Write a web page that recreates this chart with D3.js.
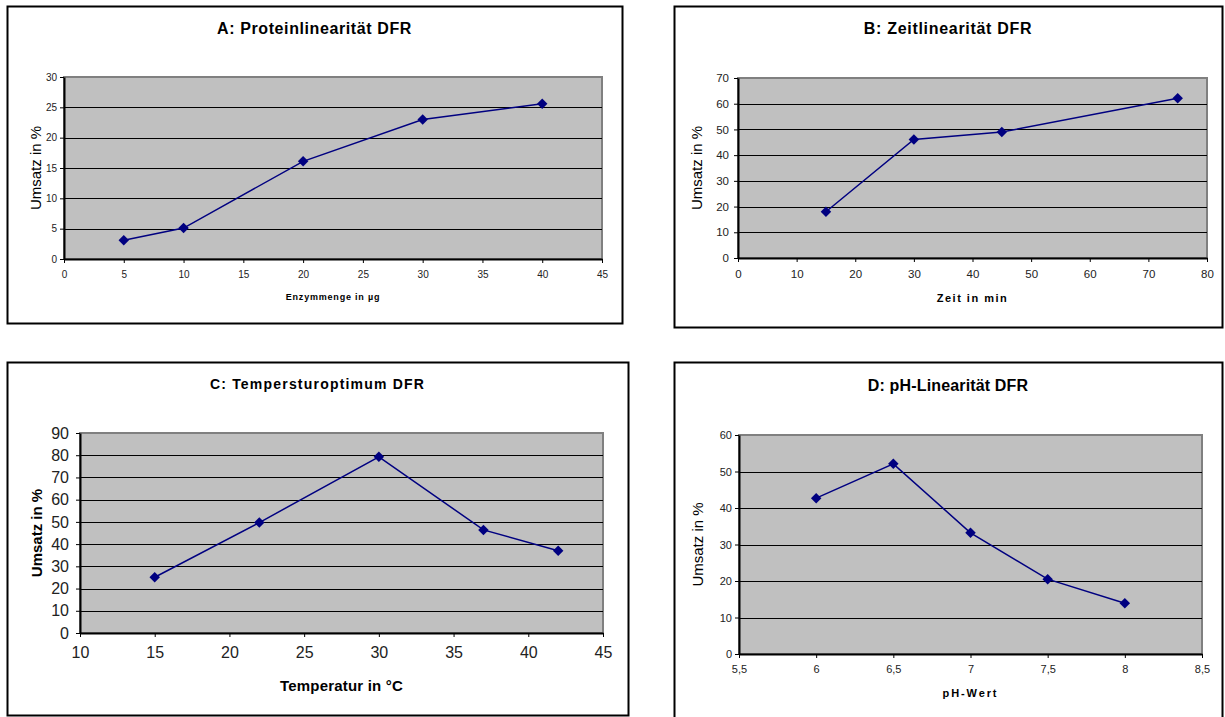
<!DOCTYPE html>
<html>
<head>
<meta charset="utf-8">
<script src="https://cdn.jsdelivr.net/npm/d3@7/dist/d3.min.js"></script>
<style>
  body { margin: 0; background: #fff; }
  svg { display: block; font-family: "Liberation Sans", Arial, sans-serif; }
</style>
</head>
<body>
<div id="chart"></div>
<script>
// --- data ---
const proteinX = [5, 10, 20, 30, 40];
const proteinY = [3.1, 5.1, 16.1, 23.0, 25.6];
const proteinXTicks = [0, 5, 10, 15, 20, 25, 30, 35, 40, 45];
const proteinYTicks = [0, 5, 10, 15, 20, 25, 30];

const timeX = [15, 30, 45, 75];
const timeY = [18.0, 46.1, 49.0, 62.1];
const timeXTicks = [0, 10, 20, 30, 40, 50, 60, 70, 80];
const timeYTicks = [0, 10, 20, 30, 40, 50, 60, 70];

const tempX = [15, 22, 30, 37, 42];
const tempY = [25.1, 49.7, 79.3, 46.4, 37.0];
const tempXTicks = [10, 15, 20, 25, 30, 35, 40, 45];
const tempYTicks = [0, 10, 20, 30, 40, 50, 60, 70, 80, 90];

const phX = [6, 6.5, 7, 7.5, 8];
const phY = [42.7, 52.1, 33.2, 20.5, 13.9];
const phXTicks = [5.5, 6, 6.5, 7, 7.5, 8, 8.5];
const phYTicks = [0, 10, 20, 30, 40, 50, 60];

const titles = ['A: Proteinlinearität DFR', 'B: Zeitlinearität DFR', 'C: Tempersturoptimum DFR', 'D: pH-Linearität DFR'];
const xTitles = ['Enzymmenge in µg', 'Zeit in min', 'Temperatur in °C', 'pH-Wert'];
const yTitle = 'Umsatz in %';

const W = 1225, H = 717;
const svg = d3.select('#chart').append('svg').attr('width', W).attr('height', H);

// comma decimal like the original (german excel)
const deFmt = d => String(d).replace('.', ',');

const panels = [
  { xs: proteinX, ys: proteinY, xt: proteinXTicks, yt: proteinYTicks, title: titles[0], xTitle: xTitles[0],
    box: [7, 6, 622, 323], plot: [64, 77, 602, 259], titleY: 28, titleSize: 16, titleLs: 0.6,
    tickSize: 10, xPad: 8, yPad: 3, xTitleY: 297, xTitleSize: 9, xTitleLs: 0.8,
    yTitleX: 35, yTitleSize: 15, yTitleBold: false },
  { xs: timeX, ys: timeY, xt: timeXTicks, yt: timeYTicks, title: titles[1], xTitle: xTitles[1],
    box: [674, 6, 1222, 327], plot: [738, 78, 1207, 258], titleY: 28, titleSize: 16, titleLs: 0.7,
    tickSize: 11.5, xPad: 8, yPad: 5, xTitleY: 298, xTitleSize: 11, xTitleLs: 1.5,
    yTitleX: 696, yTitleSize: 15, yTitleBold: false },
  { xs: tempX, ys: tempY, xt: tempXTicks, yt: tempYTicks, title: titles[2], xTitle: xTitles[2],
    box: [7, 362, 628, 715], plot: [80, 433, 603, 633], titleY: 384, titleSize: 14, titleLs: 1.2,
    tickSize: 16, xPad: 10, yPad: 7, xTitleY: 685, xTitleSize: 15, xTitleLs: 0.2,
    yTitleX: 36, yTitleSize: 15, yTitleBold: true },
  { xs: phX, ys: phY, xt: phXTicks, yt: phYTicks, title: titles[3], xTitle: xTitles[3],
    box: [674, 362, 1222, 722], plot: [739, 435, 1202, 654], titleY: 385, titleSize: 16, titleLs: 0.15,
    tickSize: 11, xPad: 7, yPad: 3, xTitleY: 693, xTitleSize: 11, xTitleLs: 1.9,
    yTitleX: 697, yTitleSize: 15, yTitleBold: false, fmt: deFmt }
];

panels.forEach(drawPanel);

function drawPanel(p) {
  const [bx0, by0, bx1, by1] = p.box;
  const [px0, py0, px1, py1] = p.plot;
  const g = svg.append('g');

  // outer chart frame
  g.append('rect')
    .attr('x', bx0 + 0.5).attr('y', by0 + 0.5)
    .attr('width', bx1 - bx0).attr('height', by1 - by0)
    .attr('fill', '#fff').attr('stroke', '#000').attr('stroke-width', 2);

  const x = d3.scaleLinear().domain(d3.extent(p.xt)).range([px0, px1]);
  const y = d3.scaleLinear().domain(d3.extent(p.yt)).range([py1, py0]);

  // plot area
  g.append('rect')
    .attr('x', px0).attr('y', py0)
    .attr('width', px1 - px0).attr('height', py1 - py0)
    .attr('fill', '#c0c0c0').attr('stroke', '#808080').attr('stroke-width', 2);

  // horizontal gridlines
  g.append('g')
    .selectAll('line')
    .data(p.yt.slice(1, -1))
    .join('line')
    .attr('x1', px0).attr('x2', px1)
    .attr('y1', d => Math.round(y(d)) + 0.5).attr('y2', d => Math.round(y(d)) + 0.5)
    .attr('stroke', '#000').attr('stroke-width', 1);

  const fmt = p.fmt || (d => String(d));

  const xAxis = g.append('g')
    .attr('transform', `translate(0,${py1})`)
    .call(d3.axisBottom(x).tickValues(p.xt).tickFormat(fmt).tickSize(4).tickPadding(p.xPad).tickSizeOuter(0));
  const yAxis = g.append('g')
    .attr('transform', `translate(${px0},0)`)
    .call(d3.axisLeft(y).tickValues(p.yt).tickFormat(fmt).tickSize(4).tickPadding(p.yPad).tickSizeOuter(0));

  [xAxis, yAxis].forEach(ax => {
    ax.select('.domain').attr('stroke', '#000').attr('stroke-width', 2);
    ax.selectAll('.tick line').attr('stroke', '#000');
    ax.selectAll('.tick text')
      .attr('fill', '#222')
      .style('font-size', p.tickSize + 'px')
      .style('font-family', '"Liberation Sans", Arial, sans-serif');
  });

  // data line
  const pts = p.xs.map((v, i) => [v, p.ys[i]]);
  g.append('path')
    .datum(pts)
    .attr('fill', 'none')
    .attr('stroke', '#000080')
    .attr('stroke-width', 1.5)
    .attr('d', d3.line().x(d => x(d[0])).y(d => y(d[1])));

  // diamond markers (square turned 45deg, like excel)
  g.append('g')
    .selectAll('path')
    .data(pts)
    .join('path')
    .attr('transform', d => `translate(${x(d[0])},${y(d[1])}) rotate(45)`)
    .attr('d', d3.symbol(d3.symbolSquare, 55))
    .attr('fill', '#000080');

  // title
  g.append('text')
    .attr('x', (bx0 + bx1) / 2).attr('y', p.titleY)
    .attr('text-anchor', 'middle').attr('dominant-baseline', 'central')
    .style('font-size', p.titleSize + 'px').style('font-weight', 'bold')
    .style('letter-spacing', p.titleLs + 'px')
    .text(p.title);

  // x axis title
  g.append('text')
    .attr('x', (px0 + px1) / 2).attr('y', p.xTitleY)
    .attr('text-anchor', 'middle').attr('dominant-baseline', 'central')
    .style('font-size', p.xTitleSize + 'px').style('font-weight', 'bold')
    .style('letter-spacing', p.xTitleLs + 'px')
    .text(p.xTitle);

  // y axis title
  g.append('text')
    .attr('transform', `translate(${p.yTitleX},${(py0 + py1) / 2}) rotate(-90)`)
    .attr('text-anchor', 'middle').attr('dominant-baseline', 'central')
    .style('font-size', p.yTitleSize + 'px')
    .style('font-weight', p.yTitleBold ? 'bold' : 'normal')
    .text(yTitle);
}
</script>
</body>
</html>
